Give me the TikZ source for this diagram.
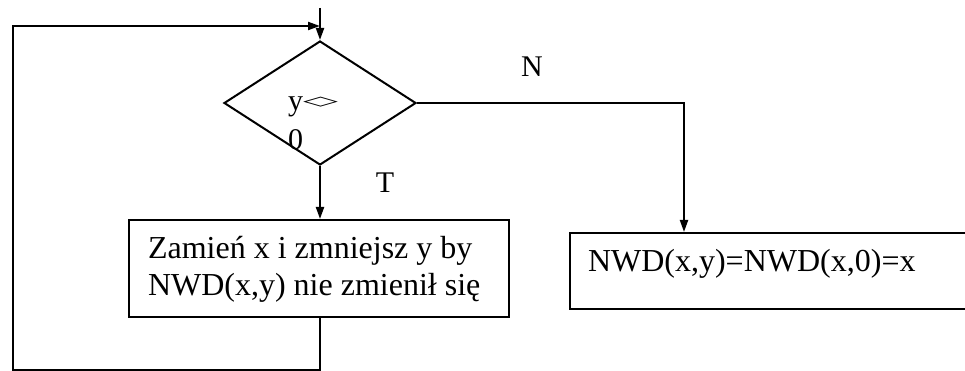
\documentclass[tikz,border=0pt]{standalone}
\usepackage{fontspec}
\setmainfont{Liberation Serif}
\newfontfamily\symfont{DejaVu Sans}
\usetikzlibrary{shapes.geometric,arrows.meta}
\begin{document}
\begin{tikzpicture}[x=1pt,y=-1pt,
  flow/.style={line width=2pt, draw=black},
  arrowline/.style={flow, -{Triangle[length=12pt,width=8pt]}},
  stepbox/.style={flow, rectangle, inner ysep=0pt, align=flush left},
  decision/.style={flow, diamond, inner sep=0pt, minimum width=192pt, minimum height=124pt},
  flowlabel/.style={inner sep=0pt, font=\fontsize{30pt}{36pt}\selectfont}
]
\useasboundingbox (0,0) rectangle (965,371);
\clip (0,0) rectangle (965,371);

% decision: y <> 0
\node[decision] (cond) at (320,103) {};
\node[anchor=base west, align=left, inner sep=0pt,
      font=\fontsize{30pt}{39pt}\selectfont] (condtext) at (288,150)
  {y\raisebox{4pt}{\resizebox{35pt}{10pt}{\symfont\raisebox{\depth}{◇}}}\\0};

% T branch: swap and reduce
\node[stepbox, anchor=north west, minimum width=380pt, minimum height=97pt,
      inner xsep=19pt, text width=342pt, text height=22pt, text depth=43pt,
      font=\fontsize{32pt}{37pt}\selectfont] (step) at (128,219)
  {Zamień x i zmniejsz y by\\NWD(x,y) nie zmienił się};

% N branch: result
\node[stepbox, anchor=north west, minimum width=410pt, minimum height=76pt,
      inner xsep=18pt, text width=374pt, text height=10pt, text depth=10pt,
      font=\fontsize{32pt}{37pt}\selectfont] (result) at (569,232)
  {NWD(x,y)=NWD(x,0)=x};

% branch labels
\node[flowlabel] (nlabel) at (532,67) {N};
\node[flowlabel] (tlabel) at (385,183) {T};

% loop and entry coordinates
\coordinate (entry) at (320,8);
\coordinate (loopa) at (320,370);
\coordinate (loopb) at (13,370);
\coordinate (loopc) at (13,26);
\coordinate (loopd) at (320,26);
\coordinate (nturn) at (684,103);

% connectors
\draw[arrowline] (entry) -- (cond.north);
\draw[arrowline] (cond.south) -- (cond.south |- step.north);
\draw[arrowline] (cond.east) -- (nturn) -- (nturn |- result.north);
\draw[arrowline] (step.south -| cond.south) -- (loopa) -- (loopb) -- (loopc) -- (loopd);
\end{tikzpicture}
\end{document}
